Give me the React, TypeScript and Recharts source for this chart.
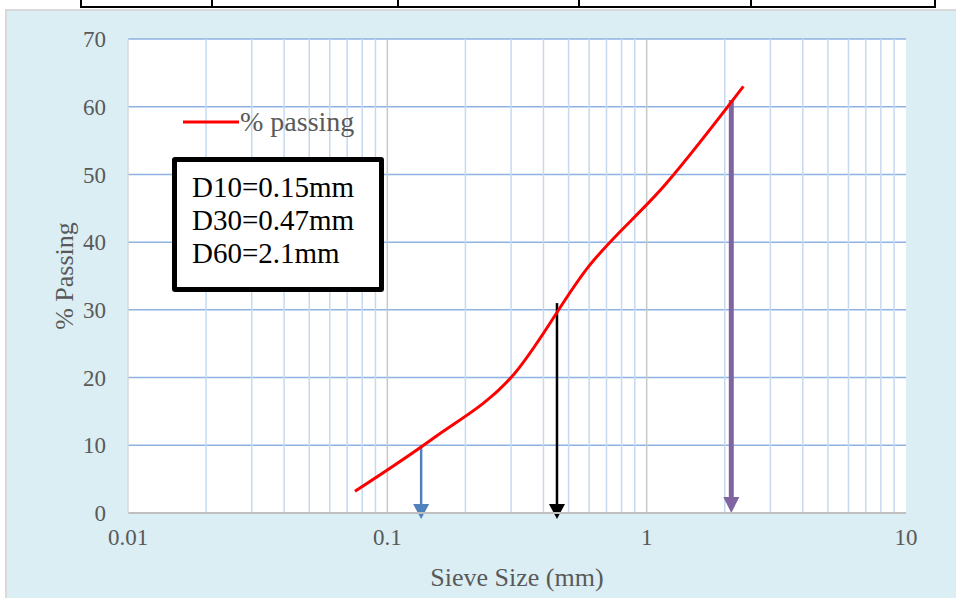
import {
  CartesianGrid,
  Line,
  LineChart,
  ReferenceLine,
  XAxis,
  YAxis,
} from "recharts";

const sieveSizes = [0.075, 0.15, 0.3, 0.6, 1.18, 2.36];
const percentPassing = [3.2, 11, 20, 36.5, 48.5, 63];

const xTicks = [0.01, 0.1, 1, 10];
const yTicks = [0, 10, 20, 30, 40, 50, 60, 70];
const minorGrid = [
  0.02, 0.03, 0.04, 0.05, 0.06, 0.07, 0.08, 0.09,
  0.2, 0.3, 0.4, 0.5, 0.6, 0.7, 0.8, 0.9,
  2, 3, 4, 5, 6, 7, 8, 9,
];
const majorGrid = [0.1, 1];

const arrowX = [0.135, 0.451, 2.12];
const arrowTop = [10, 31, 61];
const arrowColors = ["#4f81bd", "#000000", "#8064a2"];
const arrowWidths = [2.5, 2.5, 5];

const dLabels = ["D10=0.15mm", "D30=0.47mm", "D60=2.1mm"];

const data = sieveSizes.map((size, i) => ({ size, passing: percentPassing[i] }));

const serif = '"Liberation Serif", "Times New Roman", serif';

// vertical line ending in a filled head whose tip sits a little below the axis
function Arrow(props: any, color: string, width: number) {
  const { x1, y1, x2, y2 } = props;
  const tip = y2 + (width > 3 ? 0 : 6);
  const head = width > 3 ? 16 : 15;
  const half = 8;
  return (
    <g>
      <line x1={x1} y1={y1} x2={x2} y2={tip - head} stroke={color} strokeWidth={width} />
      <polygon
        points={`${x2 - half},${tip - head} ${x2 + half},${tip - head} ${x2},${tip}`}
        fill={color}
      />
    </g>
  );
}

export default function App() {
  return (
    <div style={{ position: "absolute", left: 0, top: 0, width: 956, height: 598, background: "#fff", overflow: "hidden" }}>
      {/* table border above the chart */}
      <div
        style={{
          position: "absolute",
          left: 80,
          top: -2,
          width: 852,
          height: 8,
          borderLeft: "2px solid #000",
          borderRight: "2px solid #000",
          borderBottom: "2px solid #000",
        }}
      />
      {[211, 397, 578, 750].map((x) => (
        <div key={x} style={{ position: "absolute", left: x, top: 0, width: 2, height: 8, background: "#000" }} />
      ))}
      <div
        style={{
          position: "absolute",
          left: 5,
          top: 9,
          width: 960,
          height: 600,
          background: "#dbeef4",
          border: "2px solid #d9d9d9",
        }}
      />
      <div style={{ position: "absolute", left: 0, top: 0 }}>
        <LineChart
          width={956}
          height={598}
          data={data}
          margin={{ top: 39, right: 50, left: 68, bottom: 35 }}
        >
          <CartesianGrid vertical={false} stroke="#8db3e2" strokeWidth={1.5} fill="#ffffff" />
          {minorGrid.map((v) => (
            <ReferenceLine key={v} x={v} stroke="#c6d9f1" strokeWidth={1.5} />
          ))}
          {majorGrid.map((v) => (
            <ReferenceLine key={v} x={v} stroke="#c8c8c8" strokeWidth={1.5} />
          ))}
          <XAxis
            dataKey="size"
            type="number"
            scale="log"
            domain={[0.01, 10]}
            ticks={xTicks}
            allowDataOverflow
            tickLine={false}
            axisLine={{ stroke: "#bfbfbf", strokeWidth: 2 }}
            tick={{ fill: "#595959", fontSize: 23, fontFamily: serif }}
            tickMargin={10}
            height={50}
            label={{
              value: "Sieve Size (mm)",
              position: "insideBottom",
              offset: -23,
              fill: "#595959",
              fontSize: 26,
              fontFamily: serif,
            }}
          />
          <YAxis
            type="number"
            domain={[0, 70]}
            ticks={yTicks}
            tickLine={false}
            axisLine={{ stroke: "#d9d9d9", strokeWidth: 1.5 }}
            tick={{ fill: "#595959", fontSize: 23, fontFamily: serif }}
            tickMargin={16}
            width={60}
            label={{
              value: "% Passing",
              angle: -90,
              position: "insideLeft",
              offset: -4,
              fill: "#595959",
              fontSize: 26,
              fontFamily: serif,
              style: { textAnchor: "middle" },
            }}
          />
          {arrowX.map((x, i) => (
            <ReferenceLine
              key={`arrow-${i}`}
              segment={[
                { x, y: arrowTop[i] },
                { x, y: 0 },
              ]}
              ifOverflow="visible"
              shape={(p: any) => Arrow(p, arrowColors[i], arrowWidths[i])}
            />
          ))}
          <Line
            type="monotone"
            dataKey="passing"
            name="% passing"
            stroke="#ff0000"
            strokeWidth={3}
            dot={false}
            isAnimationActive={false}
          />
        </LineChart>
      </div>
      {/* legend */}
      <div
        style={{
          position: "absolute",
          left: 183,
          top: 106,
          display: "flex",
          alignItems: "center",
          fontFamily: serif,
          whiteSpace: "nowrap",
        }}
      >
        <svg width={57} height={6}>
          <line x1={0} y1={3} x2={56} y2={3} stroke="#ff0000" strokeWidth={3} />
        </svg>
        <span style={{ fontSize: 28, color: "#595959" }}>% passing</span>
      </div>
      <div
        style={{
          position: "absolute",
          left: 172,
          top: 157,
          width: 212,
          height: 135,
          border: "5px solid #000",
          background: "#fff",
          fontFamily: serif,
          fontSize: 29,
          lineHeight: "33px",
          color: "#000",
          paddingLeft: 15,
          paddingTop: 9,
          boxSizing: "border-box",
          borderRadius: 3,
          whiteSpace: "nowrap",
        }}
      >
        {dLabels.map((t) => (
          <div key={t}>{t}</div>
        ))}
      </div>
    </div>
  );
}
